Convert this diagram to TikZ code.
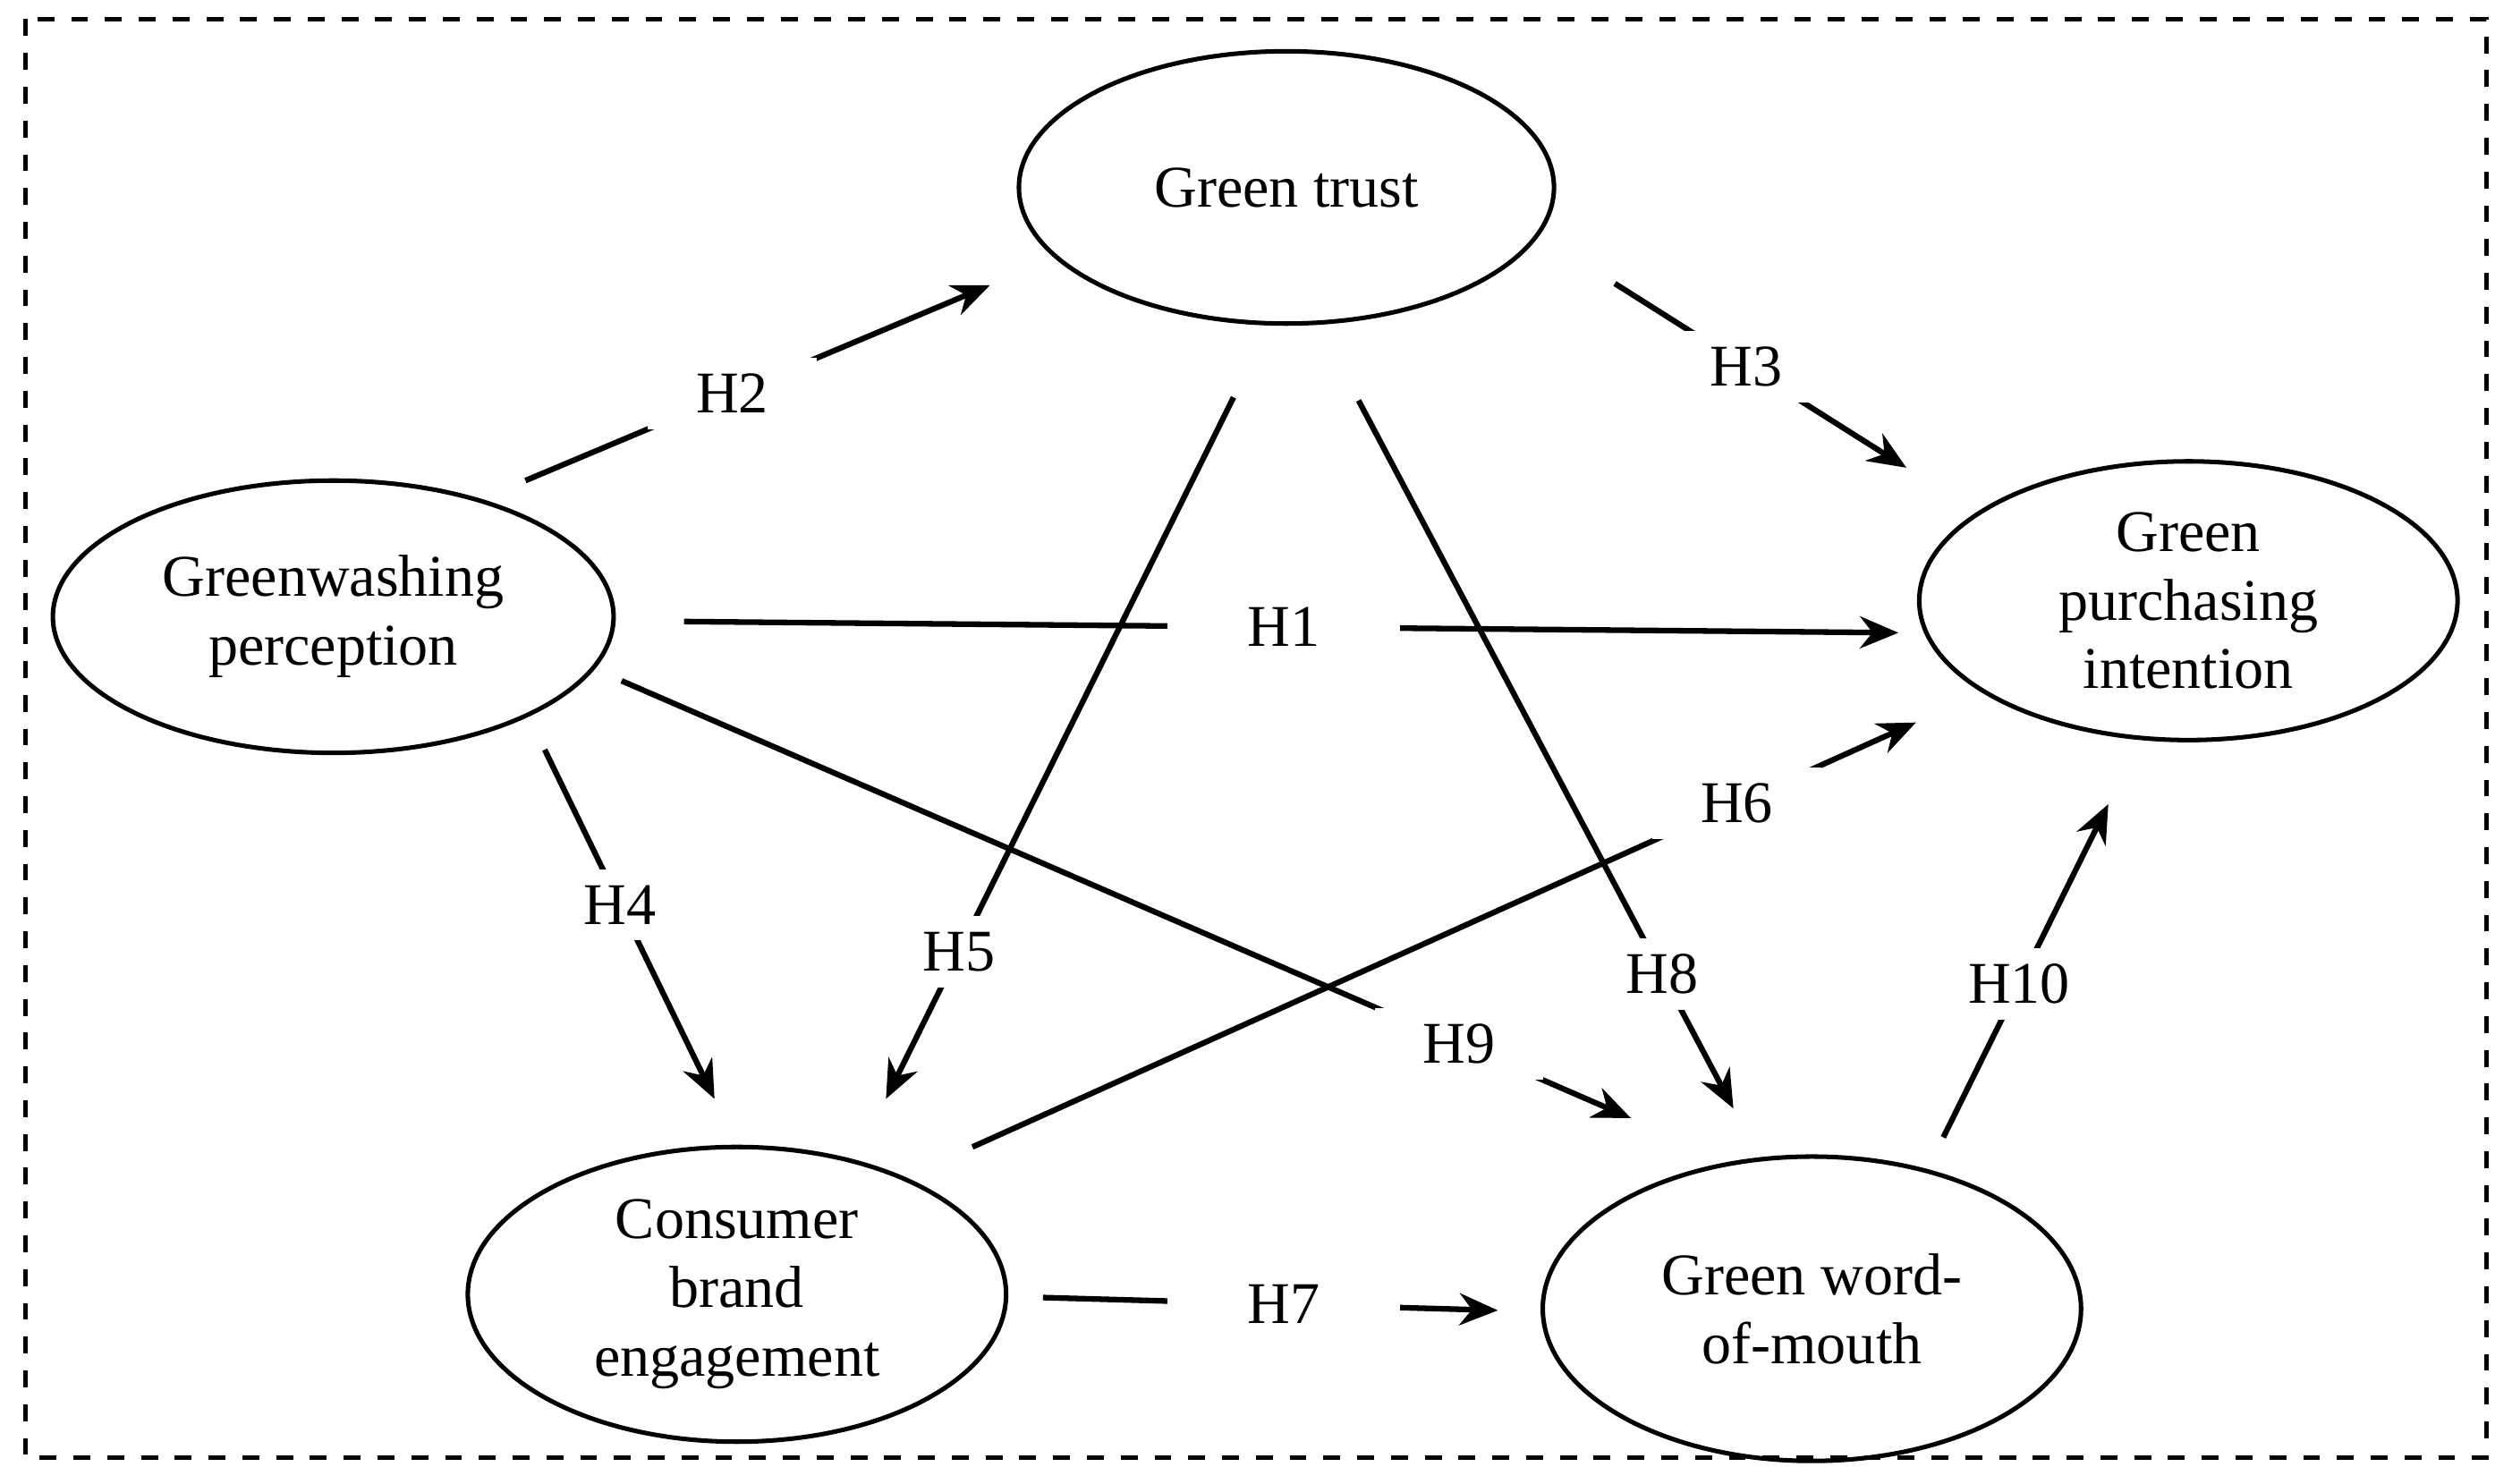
\documentclass[tikz,border=0pt]{standalone}
\usepackage{fontspec}
\setmainfont{Liberation Serif}
\usetikzlibrary{shapes.geometric,arrows.meta,positioning}

\begin{document}
\begin{tikzpicture}[x=0.1mm,y=-0.1mm,
    construct/.style={ellipse,draw,line width=0.8pt,inner sep=0pt,align=center,font=\fontsize{10.5}{12.2}\selectfont},
    hyp/.style={line width=1pt,-{Stealth[length=2.4mm,width=2mm]}},
    hlabel/.style={fill=white,inner xsep=3mm,inner ysep=1mm,font=\fontsize{10.5}{12}\selectfont}]
        \useasboundingbox (0,0) rectangle (1568,926);
        % frame
        \draw[dashed,line width=0.7pt] (16,12) rectangle (1552,910);
        % constructs
        \node[construct,minimum width=33.4mm,minimum height=17mm] (trust) at (803,117) {Green trust};
        \node[construct,minimum width=35mm,minimum height=17mm] (gwp) at (208,385) {Greenwashing\\perception};
        \node[construct,minimum width=33.6mm,minimum height=17.4mm] (gpi) at (1366,375) {Green\\purchasing\\intention};
        \node[construct,minimum width=33.6mm,minimum height=18.4mm] (cbe) at (460,808) {Consumer\\brand\\engagement};
        \node[construct,minimum width=33.6mm,minimum height=19mm] (wom) at (1131,817) {Green word-\\of-mouth};
        % arrow ends
        \coordinate (h2a) at (328,300); \coordinate (h2b) at (618,178);
        \coordinate (h3a) at (1008,177); \coordinate (h3b) at (1190,292);
        \coordinate (h1a) at (427,388); \coordinate (h1b) at (1185,395);
        \coordinate (h5a) at (770,248); \coordinate (h5b) at (553,686);
        \coordinate (h8a) at (848,250); \coordinate (h8b) at (1082,692);
        \coordinate (h6a) at (607,716); \coordinate (h6b) at (1196,451);
        \coordinate (h4a) at (340,468); \coordinate (h4b) at (446,686);
        \coordinate (h9a) at (388,425); \coordinate (h9b) at (1018,698);
        \coordinate (h7a) at (651,810); \coordinate (h7b) at (935,818);
        \coordinate (h10a) at (1213,710); \coordinate (h10b) at (1316,502);
        % hypotheses
        \draw[hyp] (h1a) -- node[hlabel,pos=0.494,inner xsep=5mm] {H1} (h1b);
        \draw[hyp] (h5a) -- node[hlabel,pos=0.79] {H5} (h5b);
        \draw[hyp] (h8a) -- node[hlabel,pos=0.81] {H8} (h8b);
        \draw[hyp] (h9a) -- node[hlabel,pos=0.83] {H9} (h9b);
        \draw[hyp] (h6a) -- node[hlabel,pos=0.81] {H6} (h6b);
        \draw[hyp] (h2a) -- node[hlabel,pos=0.445] {H2} (h2b);
        \draw[hyp] (h3a) -- node[hlabel,pos=0.45] {H3} (h3b);
        \draw[hyp] (h4a) -- node[hlabel,pos=0.445] {H4} (h4b);
        \draw[hyp] (h7a) -- node[hlabel,pos=0.53,inner xsep=5mm] {H7} (h7b);
        \draw[hyp] (h10a) -- node[hlabel,pos=0.46] {H10} (h10b);
\end{tikzpicture}
\end{document}
